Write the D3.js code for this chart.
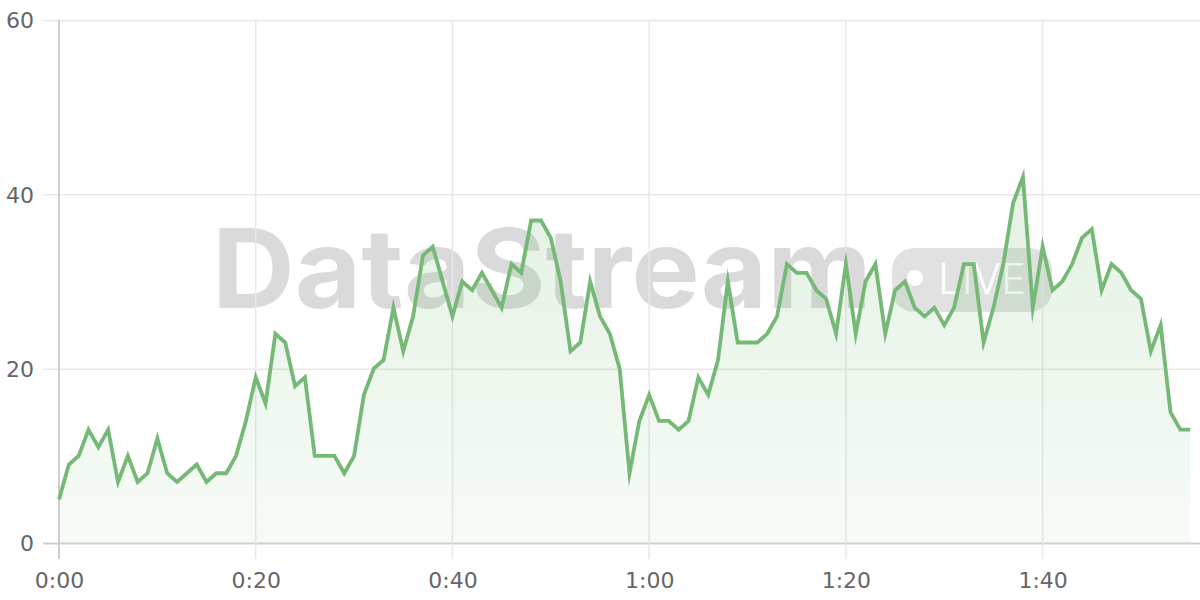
<!DOCTYPE html>
<html>
<head>
<meta charset="utf-8">
<script src="https://cdn.jsdelivr.net/npm/d3@7"></script>
<style>
  html, body { margin: 0; padding: 0; background: #ffffff; }
  svg { display: block; }
</style>
</head>
<body>
<svg id="chart" width="1200" height="600"></svg>
<script>
// ---- data (seconds elapsed, value per second) ----
const values = [
  5, 9, 10, 13, 11, 13, 7, 10, 7, 8,
  12, 8, 7, 8, 9, 7, 8, 8, 10, 14,
  19, 16, 24, 23, 18, 19, 10, 10, 10, 8,
  10, 17, 20, 21, 27, 22, 26, 33, 34, 30,
  26, 30, 29, 31, 29, 27, 32, 31, 37, 37,
  35, 30, 22, 23, 30, 26, 24, 20, 8, 14,
  17, 14, 14, 13, 14, 19, 17, 21, 30, 23,
  23, 23, 24, 26, 32, 31, 31, 29, 28, 24,
  32, 24, 30, 32, 24, 29, 30, 27, 26, 27,
  25, 27, 32, 32, 23, 27, 32, 39, 42, 27,
  34, 29, 30, 32, 35, 36, 29, 32, 31, 29,
  28, 22, 25, 15, 13, 13
];
const seconds = values.map((_, i) => i);
const xTicks = [0, 20, 40, 60, 80, 100];
const yTicks = [0, 20, 40, 60];
const watermarkTitle = "DataStream";
const watermarkBadge = "LIVE";

// ---- layout ----
const svg = d3.select("#chart");
const plotLeft = 59, plotRight = 1200, plotTop = 20, plotBottom = 543;
const x = d3.scaleLinear().domain([0, 116]).range([plotLeft, plotRight]);
const y = d3.scaleLinear().domain([0, 60]).range([plotBottom, plotTop]);
const fmt = s => `${Math.floor(s / 60)}:${String(s % 60).padStart(2, "0")}`;
const tickFont = "'DejaVu Sans', sans-serif";

// gradient for area fill
const defs = svg.append("defs");
const grad = defs.append("linearGradient").attr("id", "fillGrad")
  .attr("gradientUnits", "userSpaceOnUse")
  .attr("x1", 0).attr("x2", 0)
  .attr("y1", y(42)).attr("y2", y(0));
grad.append("stop").attr("offset", "0%").attr("stop-color", "#77bb77").attr("stop-opacity", 0.2);
grad.append("stop").attr("offset", "100%").attr("stop-color", "#77bb77").attr("stop-opacity", 0.06);

// ---- watermark (behind everything) ----
const wm = svg.append("g");
wm.append("text")
  .attr("x", 212).attr("y", 308)
  .attr("font-family", "Inter, 'Open Sans', sans-serif")
  .attr("font-weight", 700)
  .attr("font-size", 110)
  .attr("textLength", 660)
  .attr("lengthAdjust", "spacingAndGlyphs")
  .attr("fill", "#d2d2d2")
  .attr("fill-opacity", 0.82)
  .text(watermarkTitle);
wm.append("rect")
  .attr("x", 892).attr("y", 248).attr("width", 160).attr("height", 64)
  .attr("rx", 22).attr("ry", 22)
  .attr("fill", "#d4d4d4").attr("fill-opacity", 0.7);
wm.append("circle").attr("cx", 915).attr("cy", 278).attr("r", 8).attr("fill", "#ffffff");
wm.append("text")
  .attr("x", 938).attr("y", 294)
  .attr("font-family", "Inter, 'Open Sans', sans-serif")
  .attr("font-weight", 300)
  .attr("font-size", 42)
  .attr("fill", "#ffffff")
  .text(watermarkBadge);

// ---- grid ----
const grid = svg.append("g");
grid.selectAll("line.h").data(yTicks).join("line")
  .attr("x1", 43).attr("x2", plotRight)
  .attr("y1", d => y(d) + 0.5).attr("y2", d => y(d) + 0.5)
  .attr("stroke", d => d === 0 ? "#cfcfcf" : "#e8e8e8")
  .attr("stroke-width", d => d === 0 ? 2 : 1.5);
grid.selectAll("line.v").data(xTicks).join("line")
  .attr("x1", d => x(d)).attr("x2", d => x(d))
  .attr("y1", plotTop).attr("y2", 559)
  .attr("stroke", d => d === 0 ? "#cfcfcf" : "#e8e8e8")
  .attr("stroke-width", d => d === 0 ? 2 : 1.5);

// ---- area + line ----
const area = d3.area().x((d, i) => x(seconds[i])).y0(y(0)).y1(d => y(d));
const line = d3.line().x((d, i) => x(seconds[i])).y(d => y(d));
svg.append("path").datum(values).attr("d", area).attr("fill", "url(#fillGrad)");
svg.append("path").datum(values).attr("d", line)
  .attr("fill", "none")
  .attr("stroke", "#76b976")
  .attr("stroke-width", 3.8)
  .attr("stroke-linejoin", "miter")
  .attr("stroke-miterlimit", 10);

// ---- axes labels via d3 axes ----
const yAxis = d3.axisLeft(y).tickValues(yTicks).tickSize(0).tickPadding(0);
const gy = svg.append("g").attr("transform", `translate(34,0)`).call(yAxis);
gy.select(".domain").remove();
gy.selectAll("text").attr("font-family", tickFont).attr("font-size", 22).attr("fill", "#666").attr("dy", "0.35em");

const xAxis = d3.axisBottom(x).tickValues(xTicks).tickFormat(fmt).tickSize(0).tickPadding(0);
const gx = svg.append("g").attr("transform", `translate(0,572)`).call(xAxis);
gx.select(".domain").remove();
gx.selectAll("text").attr("font-family", tickFont).attr("font-size", 22).attr("fill", "#666").attr("dy", "0.71em");
</script>
</body>
</html>
